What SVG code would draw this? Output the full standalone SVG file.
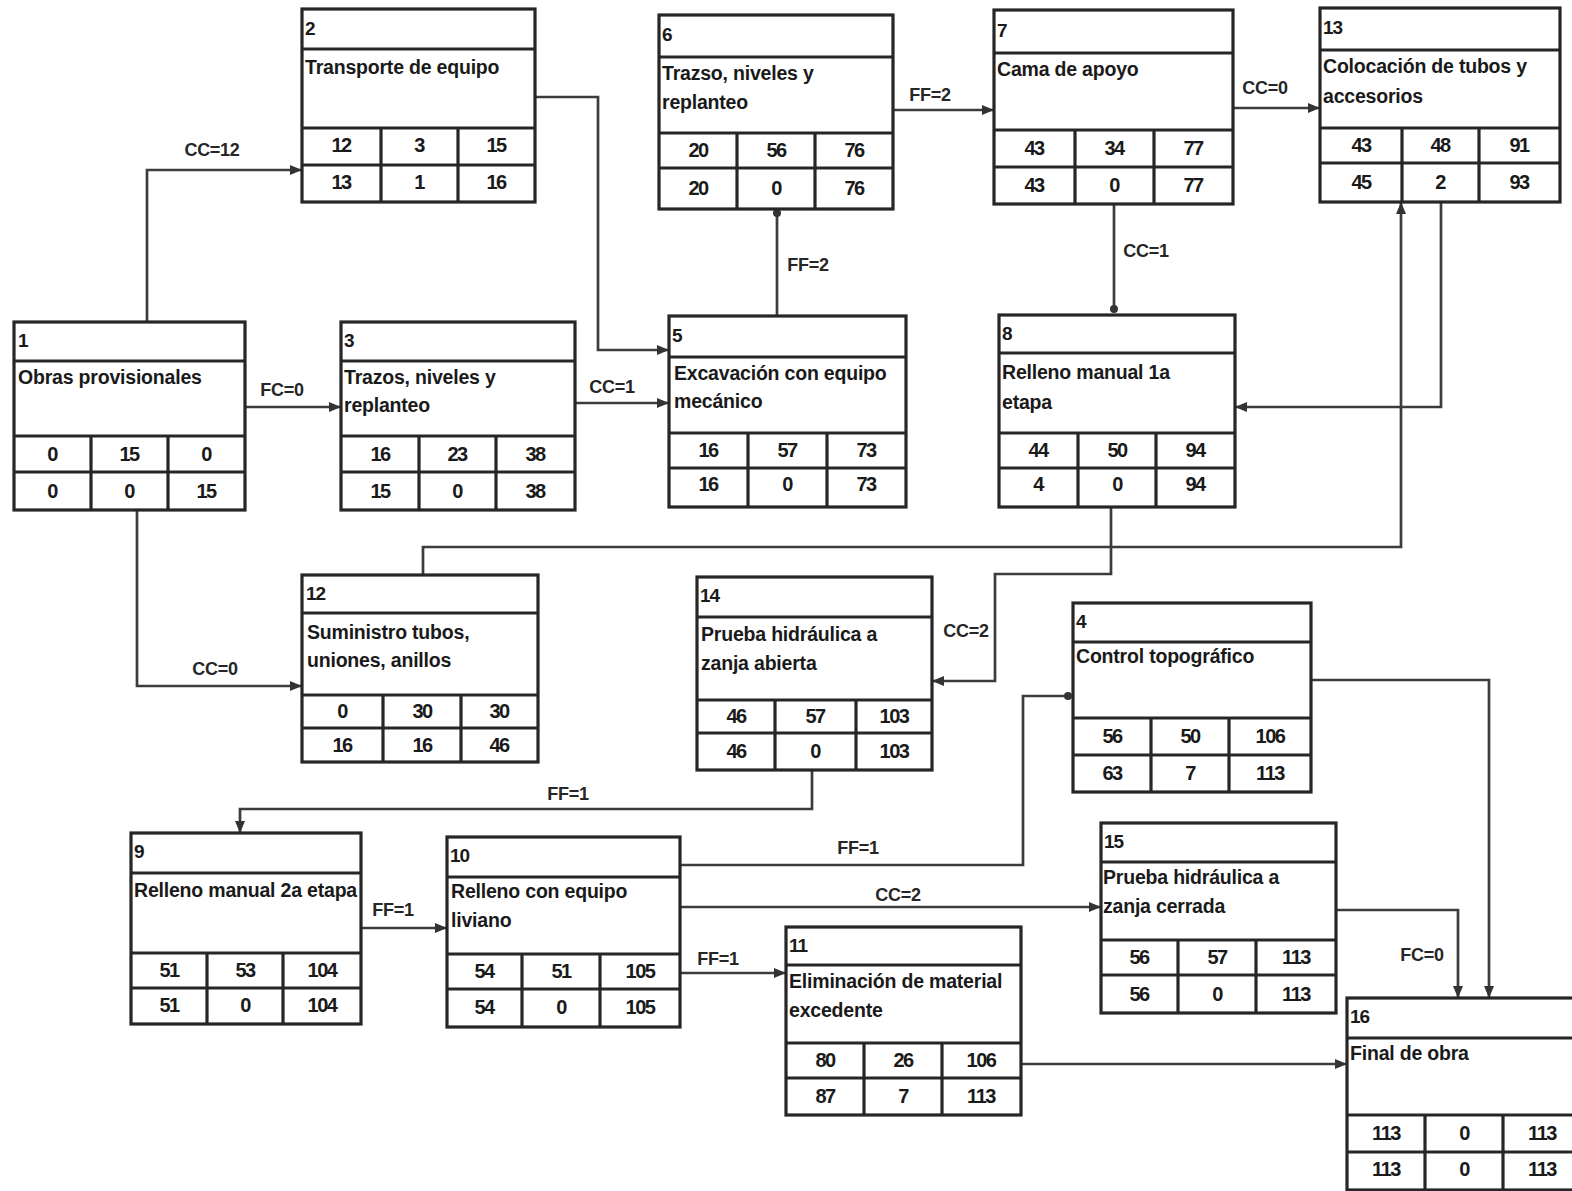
<svg xmlns="http://www.w3.org/2000/svg" width="1572" height="1191" viewBox="0 0 1572 1191">
<style>
.box{fill:#fff;stroke:#262626;stroke-width:3.2}
.ln{stroke:#262626;stroke-width:3.2}
.ti{font-family:"Liberation Sans",Arial,sans-serif;font-size:19px;font-weight:bold;fill:#1a1a1a;letter-spacing:-1px}
.ds{font-family:"Liberation Sans",Arial,sans-serif;font-size:19.5px;font-weight:bold;fill:#1a1a1a;letter-spacing:-0.2px}
.nm{font-family:"Liberation Sans",Arial,sans-serif;font-size:20px;font-weight:bold;fill:#1a1a1a;letter-spacing:-1.5px;text-anchor:middle}
.cn{fill:none;stroke:#3c3c3c;stroke-width:2.7}
.lb{font-family:"Liberation Sans",Arial,sans-serif;font-size:18px;font-weight:bold;fill:#262626;text-anchor:middle;letter-spacing:-0.3px}
</style>
<defs>
<marker id="arr" markerUnits="userSpaceOnUse" markerWidth="12" markerHeight="10" refX="11" refY="5" orient="auto"><path d="M0,0 L12,5 L0,10 z" fill="#333"/></marker>
<marker id="dot" markerUnits="userSpaceOnUse" markerWidth="10" markerHeight="10" refX="5" refY="5" orient="auto"><circle cx="5" cy="5" r="4" fill="#333"/></marker>
</defs>
<rect width="1572" height="1191" fill="#fff"/>

<g id="connectors">
<path class="cn" d="M147 322 V170 H301" marker-end="url(#arr)"/>
<path class="cn" d="M535 97 H598 V350 H668" marker-end="url(#arr)"/>
<path class="cn" d="M245 407 H340" marker-end="url(#arr)"/>
<path class="cn" d="M575 403 H668" marker-end="url(#arr)"/>
<path class="cn" d="M777 316 V213" marker-end="url(#dot)"/>
<path class="cn" d="M893 110 H993" marker-end="url(#arr)"/>
<path class="cn" d="M1233 108 H1319" marker-end="url(#arr)"/>
<path class="cn" d="M1114 204 V309" marker-end="url(#dot)"/>
<path class="cn" d="M1441 202 V407 H1236" marker-end="url(#arr)"/>
<path class="cn" d="M423 575 V547 H1401 V203" marker-end="url(#arr)"/>
<path class="cn" d="M1111 507 V574 H995 V681 H933" marker-end="url(#arr)"/>
<path class="cn" d="M812 770 V809 H240 V832" marker-end="url(#arr)"/>
<path class="cn" d="M137 510 V686 H301" marker-end="url(#arr)"/>
<path class="cn" d="M361 928 H446" marker-end="url(#arr)"/>
<path class="cn" d="M680 865 H1023 V696 H1068" marker-end="url(#dot)"/>
<path class="cn" d="M680 907 H1100" marker-end="url(#arr)"/>
<path class="cn" d="M680 973 H785" marker-end="url(#arr)"/>
<path class="cn" d="M1021 1064 H1346" marker-end="url(#arr)"/>
<path class="cn" d="M1336 910 H1458 V997" marker-end="url(#arr)"/>
<path class="cn" d="M1311 680 H1489 V997" marker-end="url(#arr)"/>
<text class="lb" x="212" y="156">CC=12</text>
<text class="lb" x="282" y="396">FC=0</text>
<text class="lb" x="612" y="393">CC=1</text>
<text class="lb" x="808" y="271">FF=2</text>
<text class="lb" x="930" y="101">FF=2</text>
<text class="lb" x="1265" y="94">CC=0</text>
<text class="lb" x="1146" y="257">CC=1</text>
<text class="lb" x="966" y="637">CC=2</text>
<text class="lb" x="568" y="800">FF=1</text>
<text class="lb" x="215" y="675">CC=0</text>
<text class="lb" x="393" y="916">FF=1</text>
<text class="lb" x="858" y="854">FF=1</text>
<text class="lb" x="898" y="901">CC=2</text>
<text class="lb" x="718" y="965">FF=1</text>
<text class="lb" x="1422" y="961">FC=0</text>
</g>

<g id="node-1">
<rect class="box" x="14" y="322" width="231" height="188"/>
<line class="ln" x1="14" y1="361" x2="245" y2="361"/><line class="ln" x1="14" y1="436" x2="245" y2="436"/><line class="ln" x1="14" y1="472" x2="245" y2="472"/>
<line class="ln" x1="91" y1="436" x2="91" y2="510"/><line class="ln" x1="168" y1="436" x2="168" y2="510"/>
<text class="ti" x="18" y="347">1</text>
<text class="ds" x="18" y="384">Obras provisionales</text>
<text class="nm" x="52" y="461">0</text><text class="nm" x="129" y="461">15</text><text class="nm" x="206" y="461">0</text>
<text class="nm" x="52" y="498">0</text><text class="nm" x="129" y="498">0</text><text class="nm" x="206" y="498">15</text>
</g>

<g id="node-2">
<rect class="box" x="302" y="9" width="233" height="193"/>
<line class="ln" x1="302" y1="49" x2="535" y2="49"/><line class="ln" x1="302" y1="128" x2="535" y2="128"/><line class="ln" x1="302" y1="165" x2="535" y2="165"/>
<line class="ln" x1="381" y1="128" x2="381" y2="202"/><line class="ln" x1="458" y1="128" x2="458" y2="202"/>
<text class="ti" x="305" y="35">2</text>
<text class="ds" x="305" y="74">Transporte de equipo</text>
<text class="nm" x="341" y="152">12</text><text class="nm" x="419" y="152">3</text><text class="nm" x="496" y="152">15</text>
<text class="nm" x="341" y="189">13</text><text class="nm" x="419" y="189">1</text><text class="nm" x="496" y="189">16</text>
</g>

<g id="node-3">
<rect class="box" x="341" y="322" width="234" height="188"/>
<line class="ln" x1="341" y1="361" x2="575" y2="361"/><line class="ln" x1="341" y1="436" x2="575" y2="436"/><line class="ln" x1="341" y1="472" x2="575" y2="472"/>
<line class="ln" x1="419" y1="436" x2="419" y2="510"/><line class="ln" x1="496" y1="436" x2="496" y2="510"/>
<text class="ti" x="344" y="347">3</text>
<text class="ds" x="344" y="384">Trazos, niveles y</text>
<text class="ds" x="344" y="412">replanteo</text>
<text class="nm" x="380" y="461">16</text><text class="nm" x="457" y="461">23</text><text class="nm" x="535" y="461">38</text>
<text class="nm" x="380" y="498">15</text><text class="nm" x="457" y="498">0</text><text class="nm" x="535" y="498">38</text>
</g>

<g id="node-5">
<rect class="box" x="669" y="316" width="237" height="191"/>
<line class="ln" x1="669" y1="357" x2="906" y2="357"/><line class="ln" x1="669" y1="433" x2="906" y2="433"/><line class="ln" x1="669" y1="468" x2="906" y2="468"/>
<line class="ln" x1="748" y1="433" x2="748" y2="507"/><line class="ln" x1="827" y1="433" x2="827" y2="507"/>
<text class="ti" x="672" y="342">5</text>
<text class="ds" x="674" y="380">Excavación con equipo</text>
<text class="ds" x="674" y="408">mecánico</text>
<text class="nm" x="708" y="457">16</text><text class="nm" x="787" y="457">57</text><text class="nm" x="866" y="457">73</text>
<text class="nm" x="708" y="491">16</text><text class="nm" x="787" y="491">0</text><text class="nm" x="866" y="491">73</text>
</g>

<g id="node-6">
<rect class="box" x="659" y="15" width="234" height="194"/>
<line class="ln" x1="659" y1="57" x2="893" y2="57"/><line class="ln" x1="659" y1="133" x2="893" y2="133"/><line class="ln" x1="659" y1="168" x2="893" y2="168"/>
<line class="ln" x1="737" y1="133" x2="737" y2="209"/><line class="ln" x1="815" y1="133" x2="815" y2="209"/>
<text class="ti" x="662" y="41">6</text>
<text class="ds" x="662" y="80">Trazso, niveles y</text>
<text class="ds" x="662" y="109">replanteo</text>
<text class="nm" x="698" y="157">20</text><text class="nm" x="776" y="157">56</text><text class="nm" x="854" y="157">76</text>
<text class="nm" x="698" y="195">20</text><text class="nm" x="776" y="195">0</text><text class="nm" x="854" y="195">76</text>
</g>

<g id="node-7">
<rect class="box" x="994" y="10" width="239" height="194"/>
<line class="ln" x1="994" y1="53" x2="1233" y2="53"/><line class="ln" x1="994" y1="130" x2="1233" y2="130"/><line class="ln" x1="994" y1="167" x2="1233" y2="167"/>
<line class="ln" x1="1075" y1="130" x2="1075" y2="204"/><line class="ln" x1="1154" y1="130" x2="1154" y2="204"/>
<text class="ti" x="997" y="37">7</text>
<text class="ds" x="997" y="76">Cama de apoyo</text>
<text class="nm" x="1034" y="155">43</text><text class="nm" x="1114" y="155">34</text><text class="nm" x="1193" y="155">77</text>
<text class="nm" x="1034" y="192">43</text><text class="nm" x="1114" y="192">0</text><text class="nm" x="1193" y="192">77</text>
</g>

<g id="node-13">
<rect class="box" x="1320" y="8" width="240" height="194"/>
<line class="ln" x1="1320" y1="50" x2="1560" y2="50"/><line class="ln" x1="1320" y1="128" x2="1560" y2="128"/><line class="ln" x1="1320" y1="163" x2="1560" y2="163"/>
<line class="ln" x1="1402" y1="128" x2="1402" y2="202"/><line class="ln" x1="1479" y1="128" x2="1479" y2="202"/>
<text class="ti" x="1323" y="34">13</text>
<text class="ds" x="1323" y="73">Colocación de tubos  y</text>
<text class="ds" x="1323" y="103">accesorios</text>
<text class="nm" x="1361" y="152">43</text><text class="nm" x="1440" y="152">48</text><text class="nm" x="1519" y="152">91</text>
<text class="nm" x="1361" y="189">45</text><text class="nm" x="1440" y="189">2</text><text class="nm" x="1519" y="189">93</text>
</g>

<g id="node-8">
<rect class="box" x="999" y="315" width="236" height="192"/>
<line class="ln" x1="999" y1="353" x2="1235" y2="353"/><line class="ln" x1="999" y1="433" x2="1235" y2="433"/><line class="ln" x1="999" y1="468" x2="1235" y2="468"/>
<line class="ln" x1="1078" y1="433" x2="1078" y2="507"/><line class="ln" x1="1156" y1="433" x2="1156" y2="507"/>
<text class="ti" x="1002" y="340">8</text>
<text class="ds" x="1002" y="379">Relleno manual  1a</text>
<text class="ds" x="1002" y="409">etapa</text>
<text class="nm" x="1038" y="457">44</text><text class="nm" x="1117" y="457">50</text><text class="nm" x="1195" y="457">94</text>
<text class="nm" x="1038" y="491">4</text><text class="nm" x="1117" y="491">0</text><text class="nm" x="1195" y="491">94</text>
</g>

<g id="node-12">
<rect class="box" x="302" y="575" width="236" height="187"/>
<line class="ln" x1="302" y1="613" x2="538" y2="613"/><line class="ln" x1="302" y1="695" x2="538" y2="695"/><line class="ln" x1="302" y1="728" x2="538" y2="728"/>
<line class="ln" x1="383" y1="695" x2="383" y2="762"/><line class="ln" x1="461" y1="695" x2="461" y2="762"/>
<text class="ti" x="306" y="600">12</text>
<text class="ds" x="307" y="639">Suministro tubos,</text>
<text class="ds" x="307" y="667">uniones, anillos</text>
<text class="nm" x="342" y="718">0</text><text class="nm" x="422" y="718">30</text><text class="nm" x="499" y="718">30</text>
<text class="nm" x="342" y="752">16</text><text class="nm" x="422" y="752">16</text><text class="nm" x="499" y="752">46</text>
</g>

<g id="node-14">
<rect class="box" x="697" y="577" width="235" height="193"/>
<line class="ln" x1="697" y1="617" x2="932" y2="617"/><line class="ln" x1="697" y1="700" x2="932" y2="700"/><line class="ln" x1="697" y1="733" x2="932" y2="733"/>
<line class="ln" x1="775" y1="700" x2="775" y2="770"/><line class="ln" x1="856" y1="700" x2="856" y2="770"/>
<text class="ti" x="700" y="602">14</text>
<text class="ds" x="701" y="641">Prueba hidráulica a</text>
<text class="ds" x="701" y="670">zanja abierta</text>
<text class="nm" x="736" y="723">46</text><text class="nm" x="815" y="723">57</text><text class="nm" x="894" y="723">103</text>
<text class="nm" x="736" y="758">46</text><text class="nm" x="815" y="758">0</text><text class="nm" x="894" y="758">103</text>
</g>

<g id="node-4">
<rect class="box" x="1073" y="603" width="238" height="189"/>
<line class="ln" x1="1073" y1="642" x2="1311" y2="642"/><line class="ln" x1="1073" y1="718" x2="1311" y2="718"/><line class="ln" x1="1073" y1="755" x2="1311" y2="755"/>
<line class="ln" x1="1151" y1="718" x2="1151" y2="792"/><line class="ln" x1="1229" y1="718" x2="1229" y2="792"/>
<text class="ti" x="1076" y="628">4</text>
<text class="ds" x="1076" y="663">Control topográfico</text>
<text class="nm" x="1112" y="743">56</text><text class="nm" x="1190" y="743">50</text><text class="nm" x="1270" y="743">106</text>
<text class="nm" x="1112" y="780">63</text><text class="nm" x="1190" y="780">7</text><text class="nm" x="1270" y="780">113</text>
</g>

<g id="node-9">
<rect class="box" x="131" y="833" width="230" height="191"/>
<line class="ln" x1="131" y1="873" x2="361" y2="873"/><line class="ln" x1="131" y1="953" x2="361" y2="953"/><line class="ln" x1="131" y1="988" x2="361" y2="988"/>
<line class="ln" x1="207" y1="953" x2="207" y2="1024"/><line class="ln" x1="283" y1="953" x2="283" y2="1024"/>
<text class="ti" x="134" y="858">9</text>
<text class="ds" x="134" y="897">Relleno manual 2a etapa</text>
<text class="nm" x="169" y="977">51</text><text class="nm" x="245" y="977">53</text><text class="nm" x="322" y="977">104</text>
<text class="nm" x="169" y="1012">51</text><text class="nm" x="245" y="1012">0</text><text class="nm" x="322" y="1012">104</text>
</g>

<g id="node-10">
<rect class="box" x="447" y="837" width="233" height="190"/>
<line class="ln" x1="447" y1="877" x2="680" y2="877"/><line class="ln" x1="447" y1="954" x2="680" y2="954"/><line class="ln" x1="447" y1="989" x2="680" y2="989"/>
<line class="ln" x1="522" y1="954" x2="522" y2="1027"/><line class="ln" x1="600" y1="954" x2="600" y2="1027"/>
<text class="ti" x="450" y="862">10</text>
<text class="ds" x="451" y="898">Relleno con equipo</text>
<text class="ds" x="451" y="927">liviano</text>
<text class="nm" x="484" y="978">54</text><text class="nm" x="561" y="978">51</text><text class="nm" x="640" y="978">105</text>
<text class="nm" x="484" y="1014">54</text><text class="nm" x="561" y="1014">0</text><text class="nm" x="640" y="1014">105</text>
</g>

<g id="node-11">
<rect class="box" x="786" y="927" width="235" height="188"/>
<line class="ln" x1="786" y1="965" x2="1021" y2="965"/><line class="ln" x1="786" y1="1043" x2="1021" y2="1043"/><line class="ln" x1="786" y1="1078" x2="1021" y2="1078"/>
<line class="ln" x1="864" y1="1043" x2="864" y2="1115"/><line class="ln" x1="942" y1="1043" x2="942" y2="1115"/>
<text class="ti" x="789" y="952">11</text>
<text class="ds" x="789" y="988">Eliminación de material</text>
<text class="ds" x="789" y="1017">excedente</text>
<text class="nm" x="825" y="1067">80</text><text class="nm" x="903" y="1067">26</text><text class="nm" x="981" y="1067">106</text>
<text class="nm" x="825" y="1103">87</text><text class="nm" x="903" y="1103">7</text><text class="nm" x="981" y="1103">113</text>
</g>

<g id="node-15">
<rect class="box" x="1101" y="823" width="235" height="190"/>
<line class="ln" x1="1101" y1="862" x2="1336" y2="862"/><line class="ln" x1="1101" y1="940" x2="1336" y2="940"/><line class="ln" x1="1101" y1="975" x2="1336" y2="975"/>
<line class="ln" x1="1178" y1="940" x2="1178" y2="1013"/><line class="ln" x1="1256" y1="940" x2="1256" y2="1013"/>
<text class="ti" x="1104" y="848">15</text>
<text class="ds" x="1103" y="884">Prueba hidráulica a</text>
<text class="ds" x="1103" y="913">zanja cerrada</text>
<text class="nm" x="1139" y="964">56</text><text class="nm" x="1217" y="964">57</text><text class="nm" x="1296" y="964">113</text>
<text class="nm" x="1139" y="1001">56</text><text class="nm" x="1217" y="1001">0</text><text class="nm" x="1296" y="1001">113</text>
</g>

<g id="node-16">
<rect class="box" x="1347" y="998" width="235" height="192"/>
<line class="ln" x1="1347" y1="1038" x2="1582" y2="1038"/><line class="ln" x1="1347" y1="1115" x2="1582" y2="1115"/><line class="ln" x1="1347" y1="1152" x2="1582" y2="1152"/>
<line class="ln" x1="1425" y1="1115" x2="1425" y2="1190"/><line class="ln" x1="1503" y1="1115" x2="1503" y2="1190"/>
<text class="ti" x="1350" y="1023">16</text>
<text class="ds" x="1350" y="1060">Final de obra</text>
<text class="nm" x="1386" y="1140">113</text><text class="nm" x="1464" y="1140">0</text><text class="nm" x="1542" y="1140">113</text>
<text class="nm" x="1386" y="1176">113</text><text class="nm" x="1464" y="1176">0</text><text class="nm" x="1542" y="1176">113</text>
</g>
</svg>
